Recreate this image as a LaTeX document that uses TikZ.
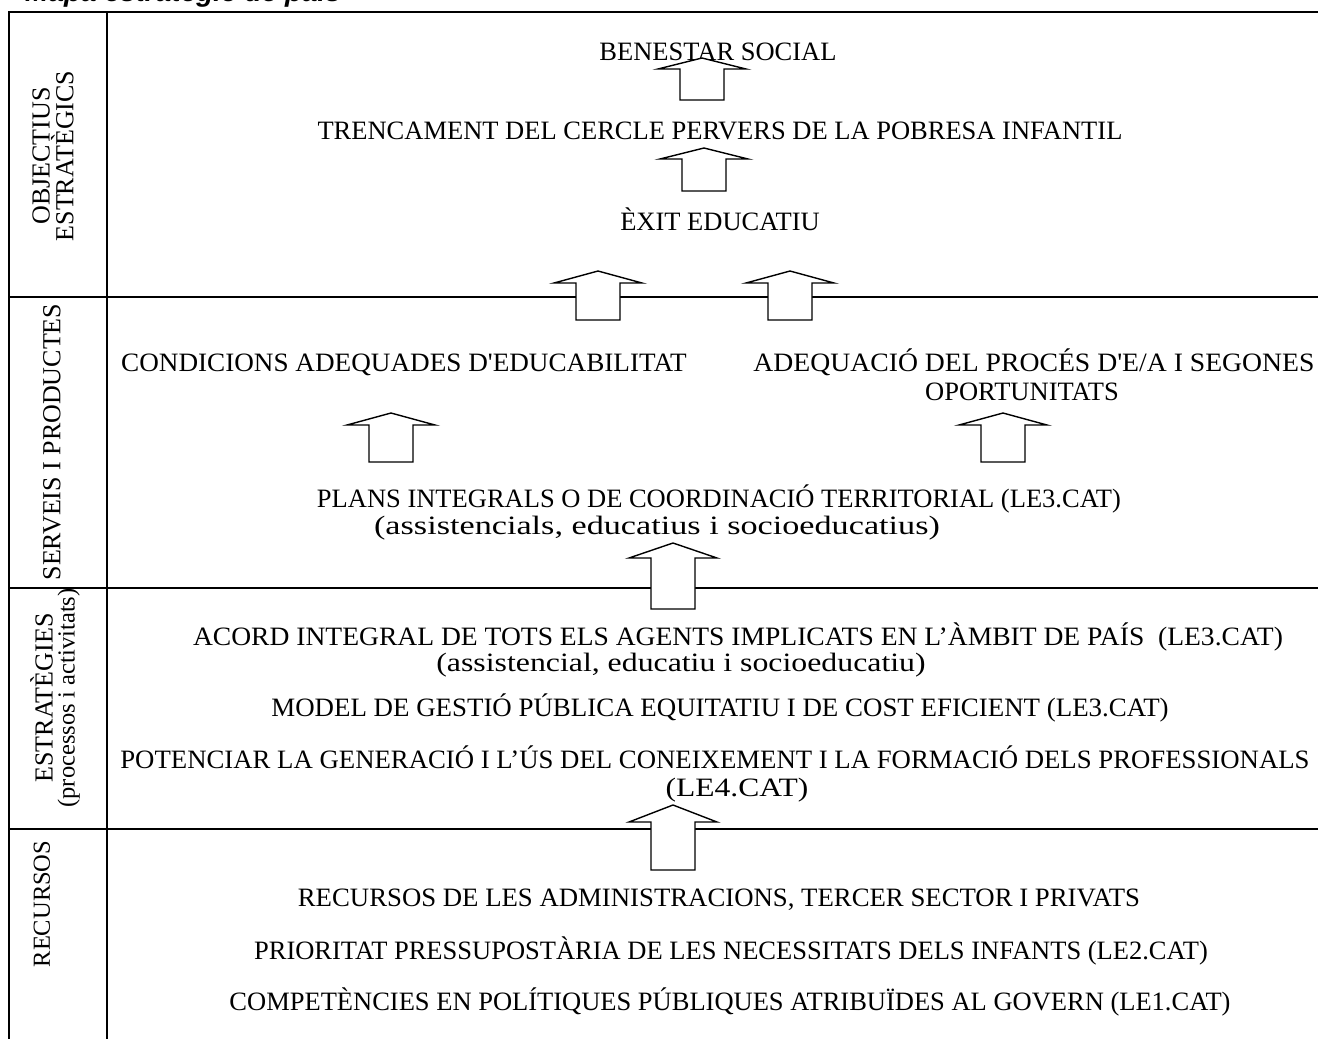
\documentclass[tikz,border=0pt]{standalone}
\usepackage{fontspec}
\setmainfont{Liberation Serif}
\newfontfamily\titlefont{Liberation Sans}
% hollow upward block arrow: name, centre x, tip y, head base y, shaft bottom y
\newcommand\blockup[5]{%
  \draw[blockarrow] (#2,#3) coordinate (#1)
    -- (#2+44,#4) -- (#2+22,#4) -- (#2+22,#5) -- (#2-22,#5)
    -- (#2-22,#4) -- (#2-44,#4) -- cycle;}
\begin{document}
\begin{tikzpicture}[x=1pt,y=-1pt,
  rule/.style={line width=2pt},
  txt/.style={anchor=base, inner sep=0pt, font=\fontsize{26.5}{30}\selectfont},
  sidelabel/.style={rotate=90, align=center, inner sep=0pt,
    font=\fontsize{26}{22}\selectfont},
  blockarrow/.style={draw, fill=white, line width=1.4pt, line join=miter}]
\useasboundingbox (0,0) rectangle (1318,1039);

% heading, cut by the top edge of the page
\node[anchor=base west, inner sep=0pt,
  font=\titlefont\bfseries\itshape\fontsize{28}{30}\selectfont]
  (title) at (25,1.5) {Mapa estratègic de país};

% frame and band separators
\draw[rule] (9,1039) -- (9,12) -- (1318,12);
\draw[rule] (107,12) -- (107,1039);
\draw[rule] (9,297) -- (1318,297);
\draw[rule] (9,588) -- (1318,588);
\draw[rule] (9,829) -- (1318,829);

% band titles
\node[sidelabel] (objlab) at (53,156) {OBJECTIUS\\ESTRATÈGICS};
\node[sidelabel] (servlab) at (52,442) {SERVEIS I PRODUCTES};
\node[sidelabel] (estlab) at (55,698) {ESTRATÈGIES\\{\fontsize{24.5}{22}\selectfont(processos i activitats)}};
\node[sidelabel, font=\fontsize{24.5}{22}\selectfont] (reclab) at (42,904) {RECURSOS};

% strategic objectives
\node[txt] (benestar) at (718,60) {BENESTAR SOCIAL};
\node[txt] (trenc) at (720,139) {TRENCAMENT DEL CERCLE PERVERS DE LA POBRESA INFANTIL};
\node[txt] (exit) at (720,230) {ÈXIT EDUCATIU};

% services and products
\node[txt, xscale=1.025] (condic) at (404,371) {CONDICIONS ADEQUADES D\textquotesingle EDUCABILITAT};
\node[txt, xscale=1.045] (adeq1) at (1034,371) {ADEQUACIÓ DEL PROCÉS D\textquotesingle E/A I SEGONES};
\node[txt] (adeq2) at (1022,400) {OPORTUNITATS};
\node[txt] (plans) at (719,507) {PLANS INTEGRALS O DE COORDINACIÓ TERRITORIAL (LE3.CAT)};
\node[txt, xscale=1.29] (plans2) at (657,534) {(assistencials, educatius i socioeducatius)};

% strategies
\node[txt, xscale=1.04] (acord) at (738,645) {ACORD INTEGRAL DE TOTS ELS AGENTS IMPLICATS EN L’ÀMBIT DE PAÍS\ \ (LE3.CAT)};
\node[txt, xscale=1.2] (acord2) at (681,671) {(assistencial, educatiu i socioeducatiu)};
\node[txt, xscale=1.015] (model) at (720,716) {MODEL DE GESTIÓ PÚBLICA EQUITATIU I DE COST EFICIENT (LE3.CAT)};
\node[txt, xscale=1.01] (poten) at (715,768) {POTENCIAR LA GENERACIÓ I L’ÚS DEL CONEIXEMENT I LA FORMACIÓ DELS PROFESSIONALS};
\node[txt, xscale=1.19] (poten2) at (737,796) {(LE4.CAT)};

% resources
\node[txt, xscale=1.01] (recadm) at (719,906) {RECURSOS DE LES ADMINISTRACIONS, TERCER SECTOR I PRIVATS};
\node[txt] (prior) at (731,959) {PRIORITAT PRESSUPOSTÀRIA DE LES NECESSITATS DELS INFANTS (LE2.CAT)};
\node[txt] (compet) at (730,1010) {COMPETÈNCIES EN POLÍTIQUES PÚBLIQUES ATRIBUÏDES AL GOVERN (LE1.CAT)};

% upward arrows between the levels
\blockup{a1}{702}{58}{69}{100}
\blockup{a2}{704}{148}{159}{191}
\blockup{a3}{598}{271}{283}{320}
\blockup{a4}{790}{271}{283}{320}
\blockup{a5}{391}{413}{425}{462}
\blockup{a6}{1003}{413}{425}{462}
\blockup{a7}{673}{543}{558}{609}
\blockup{a8}{673}{805}{822}{870}
\end{tikzpicture}
\end{document}
